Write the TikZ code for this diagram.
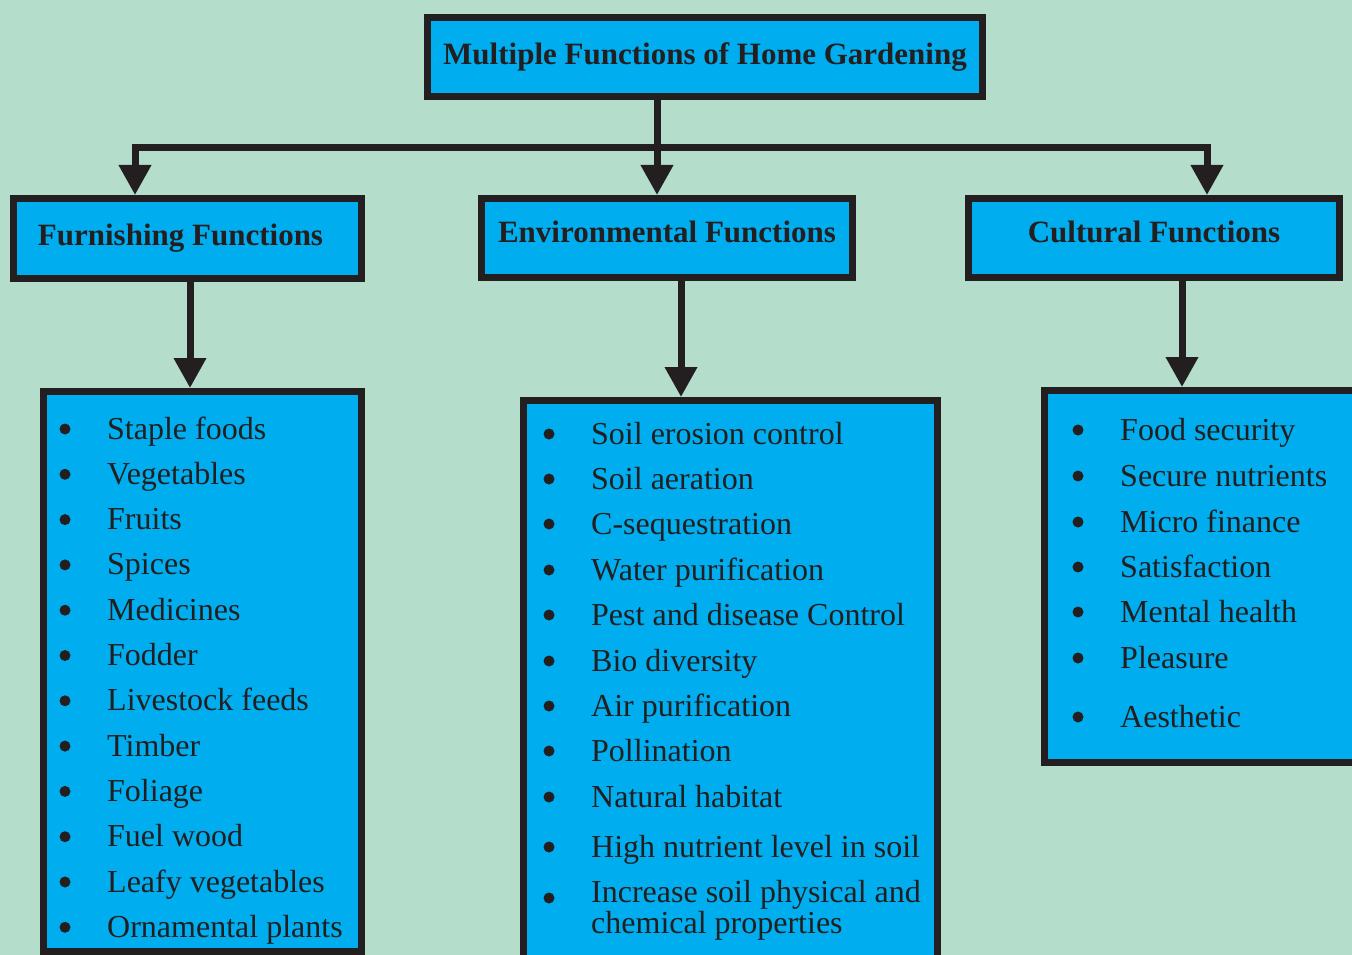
\documentclass[tikz,border=0pt]{standalone}
\usepackage{fontspec}
\setmainfont{Liberation Serif}
\usetikzlibrary{arrows.meta}
\definecolor{bgc}{HTML}{B4DECB}
\definecolor{cyanb}{HTML}{00ADEE}
\definecolor{ink}{HTML}{231F20}
\begin{document}
\begin{tikzpicture}[x=1pt,y=-1pt,
  box/.style={draw=ink, fill=cyanb, line width=7pt, inner sep=0pt, rectangle},
  head/.style={box, font=\fontsize{31}{36}\selectfont\bfseries, text=ink},
  item/.style={anchor=base west, inner sep=0pt, font=\fontsize{32}{25.5}\selectfont, text=ink},
  conn/.style={draw=ink, line width=7pt},
  arr/.style={conn, -{Triangle[length=30pt,width=31pt]}}]
\fill[bgc] (0,0) rectangle (1352,955);
\useasboundingbox (0,0) rectangle (1352,955);
\clip (0,0) rectangle (1352,955);

% header boxes
\node[head, minimum width=555pt, minimum height=79pt, text height=24pt, text depth=8pt] (top) at (705,57) {Multiple Functions of Home Gardening};
\node[head, minimum width=348pt, minimum height=80pt, text height=22pt, text depth=9pt] (furn) at (187.5,238.5) {Furnishing Functions\kern14pt};
\node[head, minimum width=371pt, minimum height=79pt, text height=22pt, text depth=14pt] (env) at (667,238) {Environmental Functions};
\node[head, minimum width=371pt, minimum height=79pt, text height=22pt, text depth=14pt] (cult) at (1154,238) {Cultural Functions};

% list boxes
\node[box, minimum width=318pt, minimum height=560pt] (fl) at (202.5,671.5) {};
\node[box, minimum width=414pt, minimum height=600pt] (el) at (730.5,700.5) {};
\node[box, minimum width=356pt, minimum height=372pt] (cl) at (1222.5,576.5) {};

% connectors
\coordinate (j) at (657,148);
\coordinate (jl) at (135,148);
\coordinate (jr) at (1207,148);
\coordinate (a1) at (190,0);
\coordinate (a2) at (681,0);
\coordinate (a3) at (1182,0);
\draw[conn] (top.south -| j) -- (j);
\draw[conn, line cap=rect] (jl) -- (jr);
\draw[arr] (jl) -- (jl |- furn.north);
\draw[arr] (j) -- (j |- env.north);
\draw[arr] (jr) -- (jr |- cult.north);
\draw[arr] (a1 |- furn.south) -- (a1 |- fl.north);
\draw[arr] (a2 |- env.south) -- (a2 |- el.north);
\draw[arr] (a3 |- cult.south) -- (a3 |- cl.north);

% furnishing items
\foreach \t [count=\i from 0] in {Staple foods, Vegetables, Fruits, Spices, Medicines, Fodder, Livestock feeds, Timber, Foliage, Fuel wood, Leafy vegetables, Ornamental plants}{
  \pgfmathsetmacro\yy{439+45.3*\i}
  \node[item] (f\i) at (107,\yy) {\t};
  \fill[ink] (65,\yy-10) circle (5.5pt);
}
% environmental items
\foreach \t/\yy [count=\i] in {Soil erosion control/444, Soil aeration/489, C-sequestration/534, Water purification/580, Pest and disease Control/625, Bio diversity/671, Air purification/716, Pollination/761, Natural habitat/807, High nutrient level in soil/857}{
  \node[item] (e\i) at (591,\yy) {\t};
  \fill[ink] (549,\yy-10) circle (5.5pt);
}
\node[item, align=left] (e11) at (591,933) {Increase soil physical and\\chemical properties};
\fill[ink] (549,898) circle (5.5pt);
% cultural items
\foreach \t/\yy [count=\i] in {Food security/440, Secure nutrients/486, Micro finance/532, Satisfaction/577, Mental health/622, Pleasure/668, Aesthetic/727}{
  \node[item] (c\i) at (1120,\yy) {\t};
  \fill[ink] (1078,\yy-10) circle (5.5pt);
}
\end{tikzpicture}
\end{document}
